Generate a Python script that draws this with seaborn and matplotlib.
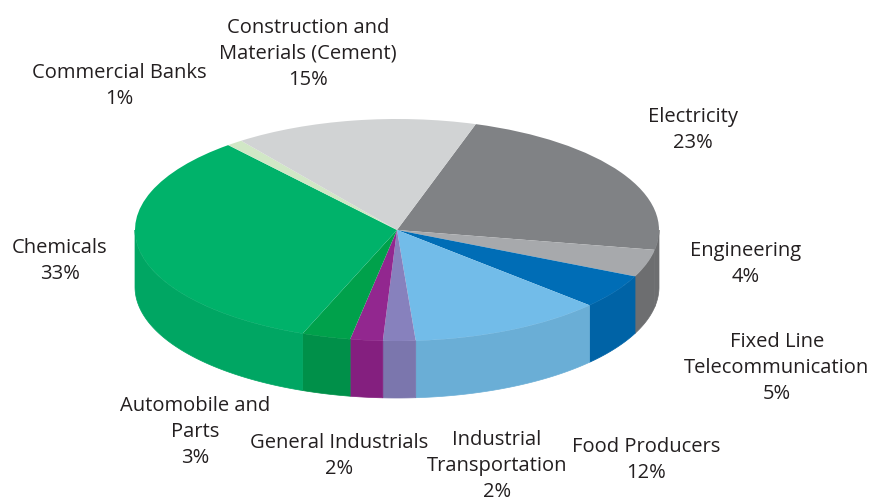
import numpy as np
import matplotlib
matplotlib.use("Agg")
import matplotlib.pyplot as plt
import seaborn as sns

# Sector shares in percent, clockwise from the top right
sectors = ["Electricity", "Engineering", "Fixed Line\nTelecommunication", "Food Producers",
           "Industrial\nTransportation", "General Industrials", "Automobile and\nParts",
           "Chemicals", "Commercial Banks", "Construction and\nMaterials (Cement)"]
shares = [23, 4, 5, 12, 2, 2, 3, 33, 1, 15]
top_colors = ["#808285", "#A7A9AC", "#006DB6", "#72BCE9", "#8781BD",
              "#92278F", "#00A14B", "#00B26A", "#D1E7C6", "#D1D3D4"]
wall_colors = ["#6D6E70", "#6D6E70", "#0063A6", "#6AAED6", "#7B76AD",
               "#841F7F", "#009049", "#00A663", "#C0D5B5", "#BFC1C2"]

# Label anchors in pixels from the top-left corner of the figure
label_x = [693, 746, 777, 646, 497, 339, 195, 60, 119, 308]
label_y = [130, 264, 368, 460, 466, 456, 432, 261, 86, 54]

W, H = 873, 497
CX, CY, RX, RY = 397, 230, 262, 111
DEPTH = 57 / RY
START = 72.5

sns.set_theme(style="white")
plt.rcParams["font.family"] = ["Open Sans", "DejaVu Sans"]

fig = plt.figure(figsize=(W / 100, H / 100), dpi=100, facecolor="white")
ax = fig.add_axes([0, 0, 1, 1])

ax.pie(shares, colors=sns.color_palette(top_colors), startangle=START, counterclock=False,
       radius=1, wedgeprops={"linewidth": 0})

# Side wall of the disc: only the part of each slice on the front half is visible
ends = START - np.cumsum(shares) * 3.6
starts = np.r_[START, ends[:-1]]
for a0, a1, color in zip(starts, ends, wall_colors):
    hi = min(a0, 0)
    lo = max(a1, -180)
    if hi <= lo:
        continue
    t = np.radians(np.linspace(hi, lo, 60))
    xs = np.r_[np.cos(t), np.cos(t[::-1])]
    ys = np.r_[np.sin(t), np.sin(t[::-1]) - DEPTH]
    ax.fill(xs, ys, facecolor=color, edgecolor=color, linewidth=0.5, zorder=0.5)

ax.set_aspect("auto")
ax.set_xlim(-CX / RX, (W - CX) / RX)
ax.set_ylim((CY - H) / RY, CY / RY)
ax.axis("off")

for name, share, x, y in zip(sectors, shares, label_x, label_y):
    fig.text(x / W, 1 - y / H, f"{name}\n{share}%", ha="center", va="center",
             fontsize=14.5, color="#231F20", linespacing=1.38)

fig.savefig("out.png", dpi=100)
